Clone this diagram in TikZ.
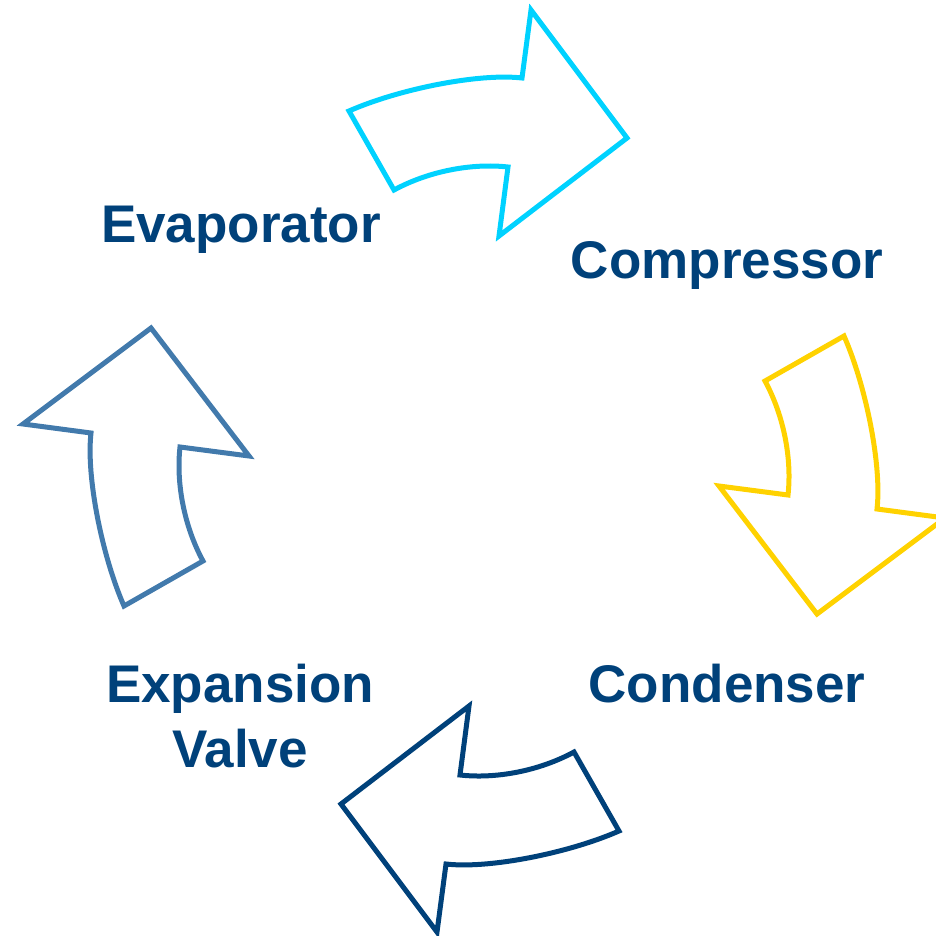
\documentclass[tikz,border=0pt]{standalone}
\usepackage{fontspec}
\setmainfont{Liberation Sans}
\usetikzlibrary{positioning}

\definecolor{compcyan}{RGB}{0,210,255}
\definecolor{condgold}{RGB}{255,210,0}
\definecolor{stagenavy}{RGB}{0,65,122}
\definecolor{valvesteel}{RGB}{66,122,172}

% one bent arrow of the cycle, drawn in its top position around the centre
\tikzset{
	pics/cyclearrow/.style={code={
		\draw[pic actions] (-135,-360) .. controls (-85,-382) and (-5,-398) .. (38,-393)
			-- (47,-461) -- (143,-333) -- (15,-235) -- (24,-304)
			.. controls (-12,-308) and (-55,-300) .. (-90,-281) -- cycle;
	}}
}

\begin{document}
\begin{tikzpicture}[x=1pt,y=-1pt,
	arrow line/.style={line width=5pt},
	stage label/.style={font=\fontsize{53}{65}\selectfont\bfseries,
		text=stagenavy,align=center,anchor=base,inner sep=0pt}]
	\useasboundingbox (0,0) rectangle (935,936);
	\coordinate (centre) at (484,471);
	
	\pic[draw=compcyan,arrow line] at (centre) {cyclearrow};
	\pic[draw=condgold,arrow line,rotate=-90] at (centre) {cyclearrow};
	\pic[draw=stagenavy,arrow line,rotate=180] at (centre) {cyclearrow};
	\pic[draw=valvesteel,arrow line,rotate=90] at (centre) {cyclearrow};
	
	% labels sit on their baselines
	\node[stage label] (evap) at (241,242) {Evaporator};
	\node[stage label] (comp) at (727,278) {Compressor};
	\node[stage label] (cond) at (727,702) {Condenser};
	\node[stage label] (valve) at (240,767) {Expansion\\Valve};
\end{tikzpicture}
\end{document}
